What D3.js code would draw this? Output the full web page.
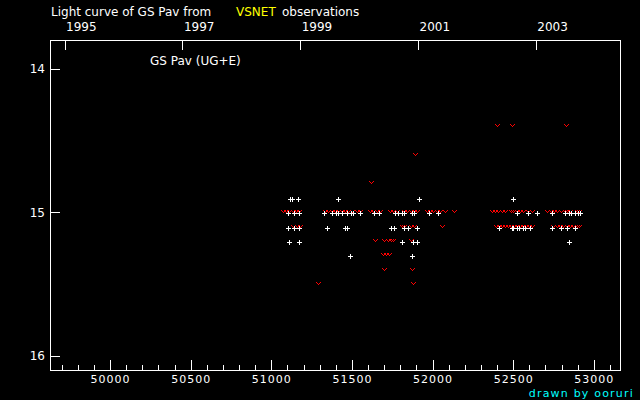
<!DOCTYPE html>
<html><head><meta charset="utf-8">
<script src="https://cdn.jsdelivr.net/npm/d3@7"></script>
<style>
html,body{margin:0;padding:0;background:#000;}
svg{display:block;}
text{font-family:"DejaVu Sans",sans-serif;}
</style></head>
<body><svg id="c" width="640" height="400"></svg>
<script>
// Magnitude rows (quantised visual estimates, 0.1 mag)
const limitMags = [14.4, 14.6, 14.8, 15.0, 15.1, 15.2, 15.3, 15.4, 15.5];
// "fainter than" observations (red v), MJD per magnitude row
const limitDates = [
  [52401, 52494, 52830],
  [51891],
  [51621],
  [51071, 51091, 51112, 51133, 51153, 51170, 51333, 51353, 51375, 51395, 51415, 51437, 51457, 51477, 51499, 51530, 51550,
   51612, 51632, 51654, 51674, 51736, 51756, 51778, 51823, 51843, 51864, 51885, 51905, 51964, 51984, 52004, 52026, 52046,
   52080, 52135, 52367, 52387, 52407, 52429, 52449, 52484, 52500, 52522, 52542, 52562, 52593, 52615, 52711, 52732, 52753,
   52773, 52794, 52821, 52835, 52852, 52894, 52910],
  [51136, 51158, 51178, 51809, 51823, 51866, 51885, 52060, 52393, 52412, 52430, 52449, 52468, 52486, 52505, 52523, 52542,
   52561, 52579, 52598, 52616, 52748, 52770, 52790, 52810, 52832, 52852, 52872, 52894, 52910],
  [51643, 51701, 51722, 51742, 51756, 51866],
  [51691, 51711, 51732],
  [51701, 51871],
  [51291, 51879]
];
// positive observations (white +)
const detMags = [14.9, 15.0, 15.1, 15.2, 15.3];
const detDates = [
  [51119, 51131, 51167, 51415, 51918, 52500],
  [51105, 51143, 51174, 51329, 51375, 51403, 51415, 51438, 51468, 51496, 51508, 51550, 51637, 51666, 51765, 51787, 51809,
   51825, 51875, 51887, 51980, 52035, 52525, 52593, 52650, 52743, 52823, 52844, 52860, 52886, 52902, 52916],
  [51105, 51143, 51174, 51347, 51457, 51468, 51740, 51763, 51825, 51849, 51902, 52414, 52490, 52500, 52522, 52534, 52562,
   52575, 52606, 52743, 52798, 52832, 52886],
  [51112, 51174, 51812, 51877, 51902, 52848],
  [51490, 51874]
];
const mjdTicks = [50000, 50500, 51000, 51500, 52000, 52500, 53000];
const magTicks = [14, 15, 16];
const yearLabels = ["1995", "1997", "1999", "2001", "2003"];
const yearMjd = [49718, 50449, 51179, 51910, 52640];

const svg = d3.select("#c");
svg.append("rect").attr("width",640).attr("height",400).attr("fill","#000");

const x = d3.scaleLinear().domain([49628, 53162]).range([50, 620]);
const y = d3.scaleLinear().domain([13.8, 16.1]).range([40, 370]);

const fs = 12;
// Title
svg.append("text").attr("x",51).attr("y",16).attr("fill","#fff").attr("font-size",fs).text("Light curve of GS Pav from");
svg.append("text").attr("x",236).attr("y",16).attr("fill","#ffff00").attr("font-size",fs).text("VSNET");
svg.append("text").attr("x",282).attr("y",16).attr("fill","#fff").attr("font-size",fs).text("observations");

// Frame
svg.append("rect").attr("x",50.5).attr("y",40.5).attr("width",570).attr("height",330)
  .attr("fill","none").attr("stroke","#fff").attr("shape-rendering","crispEdges");

function styleAxis(g){
  g.select(".domain").remove();
  g.selectAll("line").attr("stroke","#fff").attr("shape-rendering","crispEdges");
  g.selectAll("text").attr("fill","#fff").attr("font-size",fs).attr("font-family","DejaVu Sans, sans-serif");
}

// Bottom axis (major + minor)
const minor = d3.range(49700, 53162, 100).filter(v => v % 500 !== 0);
svg.append("g").attr("transform","translate(0,370)")
  .call(d3.axisBottom(x).tickValues(minor).tickSize(-5).tickSizeOuter(0).tickFormat(""))
  .call(styleAxis);
svg.append("g").attr("transform","translate(0,370)")
  .call(d3.axisBottom(x).tickValues(mjdTicks).tickSize(-10).tickSizeOuter(0).tickPadding(5).tickFormat(d3.format("d")))
  .call(styleAxis)
  .selectAll("text").attr("font-size",11).attr("letter-spacing",1);

// Left axis
svg.append("g").attr("transform","translate(50,0)")
  .call(d3.axisLeft(y).tickValues(magTicks).tickSize(-10).tickSizeOuter(0).tickPadding(5).tickFormat(d3.format("d")))
  .call(styleAxis);

// Top axis (years)
const gt = svg.append("g").attr("transform","translate(0,40)")
  .call(d3.axisTop(x).tickValues(yearMjd).tickSize(-10).tickSizeOuter(0).tickPadding(9).tickFormat((d,i)=>yearLabels[i]))
  .call(styleAxis);
gt.selectAll("text").attr("text-anchor","start").attr("dx",1);

// Object label
svg.append("text").attr("x",150).attr("y",65).attr("fill","#fff").attr("font-size",fs).text("GS Pav (UG+E)");

// Credit
svg.append("text").attr("x",634).attr("y",397).attr("text-anchor","end").attr("fill","#00ffff")
  .attr("font-size",11).attr("letter-spacing",1.2).text("drawn by ooruri");

// Data
const limits = [];
limitMags.forEach((m,i)=>limitDates[i].forEach(d=>limits.push({mjd:d, mag:m})));
const dets = [];
detMags.forEach((m,i)=>detDates[i].forEach(d=>dets.push({mjd:d, mag:m})));

const vPix = [[-2,-2],[2,-2],[-1,-1],[1,-1],[0,0]];
svg.append("g").selectAll("path").data(limits).join("path")
  .attr("d", d => {
    const px = Math.round(x(d.mjd)), py = Math.round(y(d.mag));
    return vPix.map(p => `M${px+p[0]},${py+p[1]}h1v1h-1z`).join("");
  })
  .attr("fill","#ff0000").attr("shape-rendering","crispEdges");

svg.append("g").selectAll("path").data(dets).join("path")
  .attr("d", d => {
    const px = Math.round(x(d.mjd)), py = Math.round(y(d.mag)) + 1;
    return `M${px-2},${py}h5v1h-5zM${px},${py-2}h1v5h-1z`;
  })
  .attr("fill","#ffffff").attr("shape-rendering","crispEdges");
</script></body></html>
